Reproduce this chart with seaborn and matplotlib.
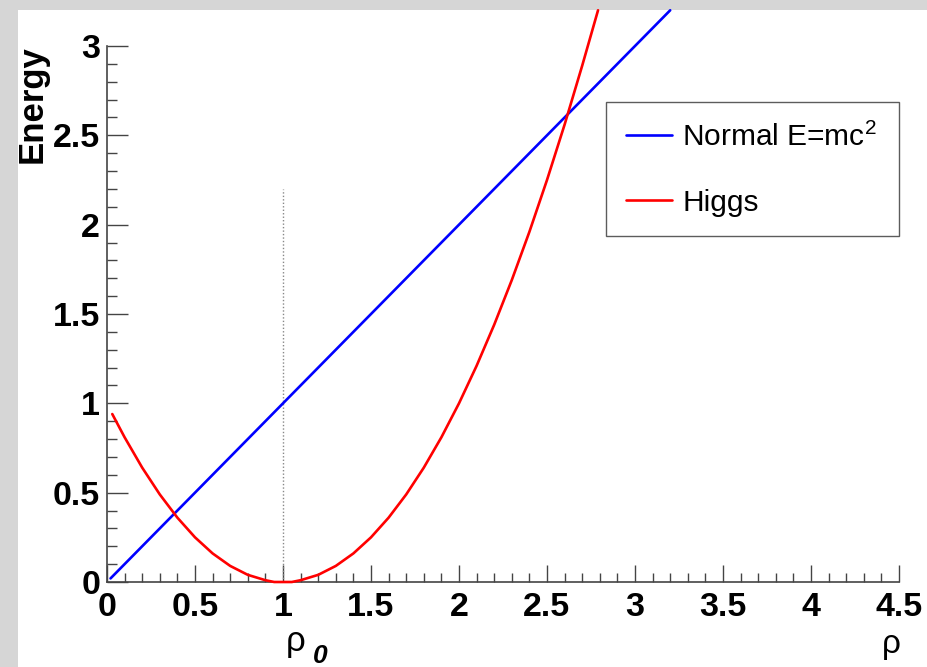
import numpy as np
import pandas as pd
import matplotlib
matplotlib.use("Agg")
import matplotlib.pyplot as plt
from matplotlib.patches import Rectangle
from matplotlib.ticker import MultipleLocator, FuncFormatter
import seaborn as sns

# ---- data ----
normal_rho = [0.02, 0.5, 1.0, 1.5, 2.0, 2.5, 3.0, 3.2]
normal_energy = [0.02, 0.5, 1.0, 1.5, 2.0, 2.5, 3.0, 3.2]

higgs_rho = [0.03, 0.1, 0.2, 0.3, 0.4, 0.5, 0.6, 0.7, 0.8, 0.9, 0.95, 1.0, 1.05, 1.1,
             1.2, 1.3, 1.4, 1.5, 1.6, 1.7, 1.8, 1.9, 2.0, 2.1, 2.2, 2.3, 2.4, 2.5,
             2.6, 2.7, 2.79]
higgs_energy = [0.94, 0.81, 0.64, 0.49, 0.36, 0.25, 0.16, 0.09, 0.04, 0.01, 0.0, 0.0, 0.0, 0.01,
                0.04, 0.09, 0.16, 0.25, 0.36, 0.49, 0.64, 0.81, 1.0, 1.21, 1.44, 1.69, 1.96, 2.25,
                2.56, 2.89, 3.2]

rho0_x = [1.0, 1.0]
rho0_y = [0.0, 2.2]

x_ticks = [0, 0.5, 1, 1.5, 2, 2.5, 3, 3.5, 4, 4.5]
y_ticks = [0, 0.5, 1, 1.5, 2, 2.5, 3]
labels = ["Normal E=mc$^2$", "Higgs"]

sns.set_style("white")
plt.rcParams["font.family"] = ["Liberation Sans", "DejaVu Sans"]
plt.rcParams["mathtext.fontset"] = "custom"
plt.rcParams["mathtext.rm"] = "Liberation Sans"

W, H = 928, 667
fig = plt.figure(figsize=(W / 100, H / 100), dpi=100)
fig.patch.set_facecolor("#d6d6d6")
fig.patches.append(Rectangle((18 / W, 0), 1 - 18 / W, 1 - 10 / H,
                             transform=fig.transFigure, facecolor="white",
                             edgecolor="none", zorder=0))

ax = fig.add_axes([107 / W, 1 - 582 / H, 792 / W, 536 / H])
ax.set_zorder(2)
ax.set_facecolor("none")

df_n = pd.DataFrame({"rho": normal_rho, "E": normal_energy})
df_h = pd.DataFrame({"rho": higgs_rho, "E": higgs_energy})

ax.plot(rho0_x, rho0_y, color="#888888", linestyle=(0, (1, 1.5)), linewidth=1.0, zorder=1)
sns.lineplot(data=df_n, x="rho", y="E", color="#0000ff", linewidth=1.9,
             label=labels[0], sort=False, ax=ax, zorder=3, clip_on=False)
sns.lineplot(data=df_h, x="rho", y="E", color="#ff0000", linewidth=1.9,
             label=labels[1], sort=False, ax=ax, zorder=3, clip_on=False)

ax.set_xlim(0, 4.5)
ax.set_ylim(0, 3.0)
ax.set_xlabel("")
ax.set_ylabel("")

for s in ["top", "right"]:
    ax.spines[s].set_visible(False)
for s in ["left", "bottom"]:
    ax.spines[s].set_color("#444444")
    ax.spines[s].set_linewidth(1.2)

ax.set_xticks(x_ticks)
ax.set_yticks(y_ticks)
ax.xaxis.set_minor_locator(MultipleLocator(0.1))
ax.yaxis.set_minor_locator(MultipleLocator(0.1))
fmt = FuncFormatter(lambda v, p: "%g" % v)
ax.xaxis.set_major_formatter(fmt)
ax.yaxis.set_major_formatter(fmt)

ax.tick_params(axis="x", which="major", direction="in", length=12.5, width=1.0,
               color="#444444", pad=7, labelsize=24.5, bottom=True, labelcolor="black")
ax.tick_params(axis="x", which="minor", direction="in", length=6.5, width=1.0,
               color="#444444", bottom=True)
ax.tick_params(axis="y", which="major", direction="in", length=15, width=1.0,
               color="#444444", pad=5, labelsize=24.5, left=True, labelcolor="black")
ax.tick_params(axis="y", which="minor", direction="in", length=7.5, width=1.0,
               color="#444444", left=True)
for lab in ax.get_xticklabels() + ax.get_yticklabels():
    lab.set_fontweight("bold")

leg = ax.legend(loc="upper left", bbox_to_anchor=(0.630, 0.645, 0.370, 0.25),
                mode="expand", borderaxespad=0, fontsize=21.5, frameon=True,
                fancybox=False, edgecolor="#333333", handlelength=1.55,
                handletextpad=0.35, labelspacing=1.23, borderpad=0.66)
leg.get_frame().set_linewidth(1.0)
for t in leg.get_texts():
    t.set_color("black")

fig.text(32 / W, 1 - 45 / H, "Energy", rotation=90, ha="center", va="top",
         fontsize=25, fontweight="bold", color="black")
fig.text(296 / W, 1 - 641 / H, "\u03c1", ha="center", va="center", fontsize=25,
         color="black")
fig.text(320 / W, 1 - 656 / H, "0", ha="center", va="center", fontsize=19,
         fontweight="bold", fontstyle="italic", color="black")
fig.text(891 / W, 1 - 645 / H, "\u03c1", ha="center", va="center", fontsize=24,
         color="black")

fig.savefig("out.png", dpi=100, facecolor=fig.get_facecolor())
